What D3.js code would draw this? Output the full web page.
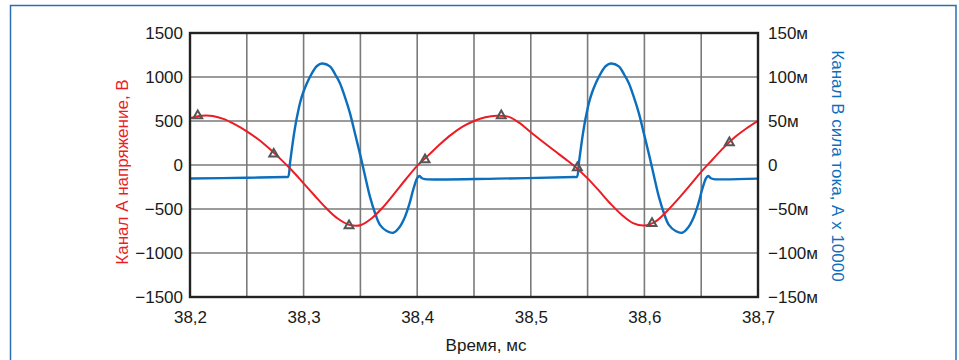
<!DOCTYPE html>
<html><head><meta charset="utf-8">
<script src="https://cdn.jsdelivr.net/npm/d3@7"></script>
<style>
html,body{margin:0;padding:0;background:#fff;}
svg{display:block;font-family:"Liberation Sans",Arial,sans-serif;}
</style></head>
<body>
<svg id="chart" width="959" height="360"></svg>
<script>
// ---- data ----
const xTicks = [38.2, 38.3, 38.4, 38.5, 38.6, 38.7];
const yLeftTicks = [-1500, -1000, -500, 0, 500, 1000, 1500];
const yRightTicks = [-150, -100, -50, 0, 50, 100, 150];

// Channel A voltage, V
const voltT = [38.20,38.21,38.22,38.23,38.24,38.25,38.26,38.27,38.28,38.29,38.30,38.31,38.32,38.33,38.34,38.35,38.36,38.37,38.38,38.39,38.40,38.41,38.42,38.43,38.44,38.45,38.46,38.47,38.48,38.49,38.50,38.51,38.52,38.53,38.54,38.55,38.56,38.57,38.58,38.59,38.60,38.61,38.62,38.63,38.64,38.65,38.66,38.67,38.68,38.69,38.70];
const voltV = [530,560,558,522,458,382,292,184,64,-66,-208,-352,-492,-608,-678,-684,-605,-478,-322,-162,-10,112,235,345,435,500,543,560,550,478,372,270,170,72,-30,-152,-292,-438,-566,-660,-688,-640,-522,-382,-232,-78,62,200,320,418,503];

// Channel B current, mA (x 10000)
const currT = [38.20000,38.25000,38.28400,38.28627,38.28803,38.28979,38.29155,38.29331,38.29507,38.29683,38.29947,38.30299,38.30739,38.31180,38.31620,38.32320,38.32820,38.33200,38.33620,38.34080,38.34520,38.35020,38.35420,38.35840,38.36270,38.36720,38.37320,38.37890,38.38420,38.38920,38.39320,38.39650,38.40000,38.40180,38.40420,38.40680,38.47000,38.53830,
               38.54057,38.54233,38.54409,38.54585,38.54761,38.54937,38.55113,38.55377,38.55729,38.56169,38.56610,38.57050,38.57750,38.58250,38.58630,38.59050,38.59510,38.59950,38.60450,38.60850,38.61270,38.61700,38.62150,38.62750,38.63320,38.63850,38.64350,38.64750,38.65080,38.65430,38.65610,38.65850,38.66110,38.70000];
const currI = [-15.3,-14.5,-13.6,-13.5,2.3,19.3,35.2,48.9,60.2,70.5,81.8,93.2,104.5,112.5,115.4,112,102,93,78,59,36,9.5,-13,-36,-54,-68,-75,-77,-71,-59,-44,-28,-15,-12.5,-15,-16,-15.5,-13.6,
               -13.5,2.3,19.3,35.2,48.9,60.2,70.5,81.8,93.2,104.5,112.5,115.4,112,102,93,78,59,36,9.5,-13,-36,-54,-68,-75,-77,-71,-59,-44,-28,-15,-12.5,-15,-16,-15.5];

// Triangle markers on channel A
const markT = [38.2068,38.2737,38.3400,38.4069,38.4740,38.5410,38.6067,38.6748];
const markV = [560,125,-690,60,560,-30,-663,254];

// ---- drawing ----
const svg = d3.select("#chart");
const L = 190, R = 758, T = 33, B = 297;
const x = d3.scaleLinear().domain([38.2, 38.7]).range([L, R]);
const yL = d3.scaleLinear().domain([-1500, 1500]).range([B, T]);
const yR = d3.scaleLinear().domain([-150, 150]).range([B, T]);

const RED = "#ec1c24", BLUE = "#0b6fbd", GRID = "#7a7a7a";

// outer frame
svg.append("rect").attr("x", 10.5).attr("y", 5.5).attr("width", 945.5).attr("height", 400)
  .attr("fill", "none").attr("stroke", "#2a6fb3").attr("stroke-width", 1.5);

// grid
const g = svg.append("g");
g.selectAll("line.v").data(d3.range(11).map(i => 38.2 + i * 0.05)).join("line")
  .attr("x1", d => x(d)).attr("x2", d => x(d)).attr("y1", T).attr("y2", B)
  .attr("stroke", GRID).attr("stroke-width", 1.6);
g.selectAll("line.h").data(yLeftTicks).join("line")
  .attr("x1", L).attr("x2", R).attr("y1", d => yL(d)).attr("y2", d => yL(d))
  .attr("stroke", GRID).attr("stroke-width", 1.6);

// axes
const minus = v => (v < 0 ? "\u2212" + Math.abs(v) : String(v));
const axL = svg.append("g").attr("transform", `translate(${L},0)`)
  .call(d3.axisLeft(yL).tickValues(yLeftTicks).tickSize(0).tickPadding(7).tickFormat(minus));
const axR = svg.append("g").attr("transform", `translate(${R},0)`)
  .call(d3.axisRight(yR).tickValues(yRightTicks).tickSize(0).tickPadding(10)
    .tickFormat(v => v === 0 ? "0" : minus(v) + "м"));
const axB = svg.append("g").attr("transform", `translate(0,${B})`)
  .call(d3.axisBottom(x).tickValues(xTicks).tickSize(0).tickPadding(14)
    .tickFormat(v => v.toFixed(1).replace(".", ",")));
[axL, axR, axB].forEach(a => {
  a.select(".domain").remove();
  a.selectAll("text").attr("font-size", 17).attr("fill", "#1a1a1a")
    .attr("font-family", "Liberation Sans, Arial, sans-serif");
});

// titles
svg.append("text").attr("x", 486).attr("y", 351).attr("text-anchor", "middle")
  .attr("font-size", 17).attr("fill", "#1a1a1a").text("Время, мс");
svg.append("text").attr("transform", "translate(128,172) rotate(-90)").attr("text-anchor", "middle")
  .attr("font-size", 17).attr("fill", RED).text("Канал А напряжение, В");
svg.append("text").attr("transform", "translate(832,166) rotate(90)").attr("text-anchor", "middle")
  .attr("font-size", 17).attr("fill", BLUE).text("Канал В сила тока, А х 10000");

// lines
svg.append("clipPath").attr("id", "clip").append("rect")
  .attr("x", L).attr("y", T).attr("width", R - L).attr("height", B - T);
const blueLine = d3.line().x(d => x(d[0])).y(d => yR(d[1])).curve(d3.curveCatmullRom.alpha(0.5));
const redLine = d3.line().x(d => x(d[0])).y(d => yL(d[1])).curve(d3.curveCatmullRom.alpha(0.5));
svg.append("path").datum(currT.map((t, i) => [t, currI[i]]))
  .attr("d", blueLine).attr("fill", "none").attr("stroke", BLUE).attr("stroke-width", 2.4)
  .attr("stroke-linejoin", "round").attr("clip-path", "url(#clip)");
svg.append("path").datum(voltT.map((t, i) => [t, voltV[i]]))
  .attr("d", redLine).attr("fill", "none").attr("stroke", RED).attr("stroke-width", 2)
  .attr("clip-path", "url(#clip)");

// plot frame
svg.append("rect").attr("x", L).attr("y", T).attr("width", R - L).attr("height", B - T)
  .attr("fill", "none").attr("stroke", "#222").attr("stroke-width", 2.4);

// markers
svg.selectAll("path.mk").data(markT.map((t, i) => [t, markV[i]])).join("path")
  .attr("class", "mk")
  .attr("transform", d => `translate(${x(d[0])},${yL(d[1])})`)
  .attr("d", d3.symbol(d3.symbolTriangle, 34))
  .attr("fill", "none").attr("stroke", "#555").attr("stroke-width", 2);
</script>
</body></html>
